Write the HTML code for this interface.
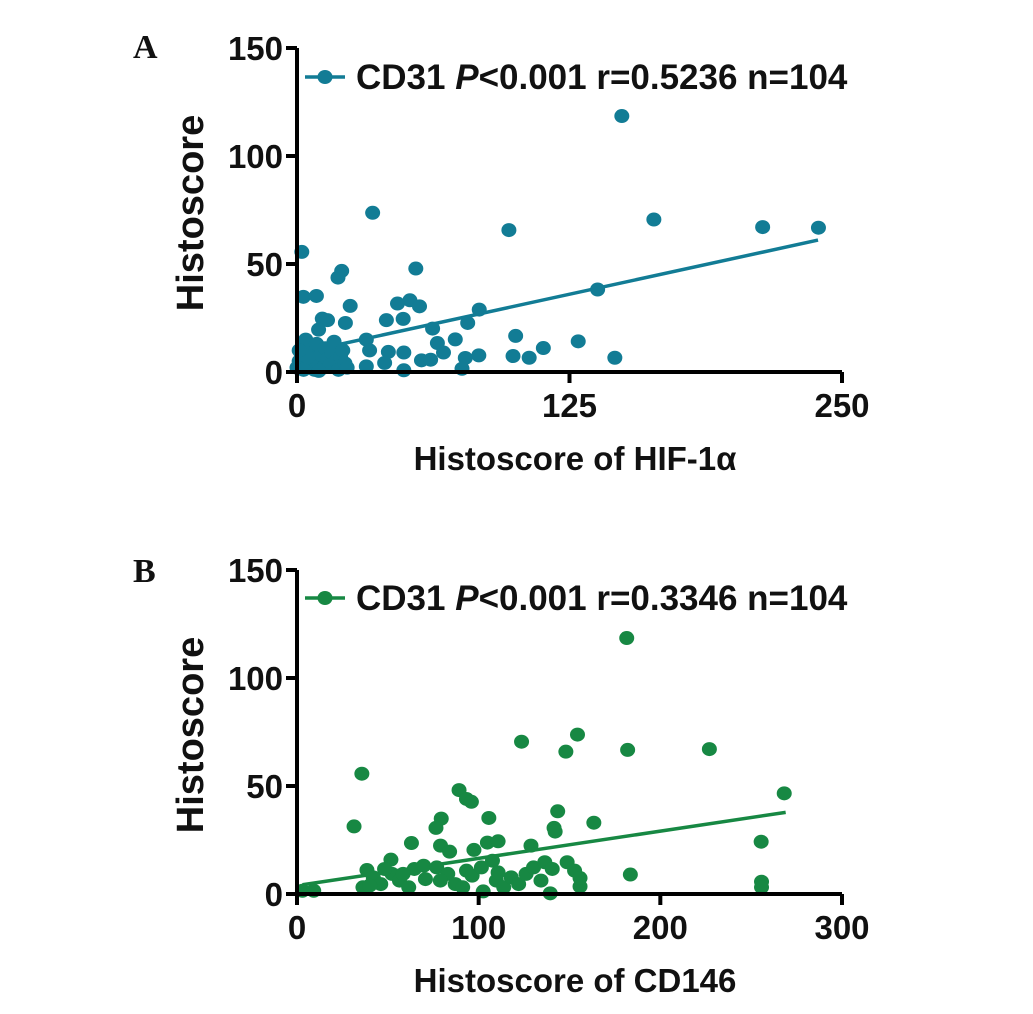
<!DOCTYPE html>
<html><head><meta charset="utf-8"><style>
body{margin:0;background:#fff}
svg text{font-family:"Liberation Sans",sans-serif;font-weight:bold;fill:#111}
</style></head><body>
<svg id="chart" width="1033" height="1009" xmlns="http://www.w3.org/2000/svg">
</svg>
<script>
// Panel A data
const aX = [149,34.7,97.2,163.7,213.6,239.2,2.2,137.9,20.5,18.8,54.5,2.9,8.9,24.4,46.1,51.8,56.2,83.6,11.6,14,22.2,41,48.7,9.9,62.2,78.3,100.3,72.6,129,64.4,67.2,113,83.4,99.1,106.5,145.8,77.2,75.7,57.1,61.3,49,49,31.8,33.3,31.8,41.9,40.2,
0,1,2,3,4,5,6,7,8,9,10,11,12,13,14,15,16,17,18,19,20,21,22,23,3,5,10,1];
const aY = [118.5,73.7,65.7,70.6,67.1,66.8,55.6,38.2,46.8,43.7,47.9,34.8,35.2,30.6,31.7,33.2,30.4,28.9,24.7,24,22.7,24,24.6,19.6,20.1,22.7,16.7,15.1,14.2,13.4,9,11.1,7.7,7.4,6.6,6.6,6.5,1.5,5.4,5.7,9,0.8,15,10,2.6,9.3,4.2,
2,5,8,12,15,3,10,6,1,13,4,8,2,11,6,3,9,14,5,1,7,10,4,2,1,7,0.5,10];
const aFit = [8.5, 0.22]; // intercept, slope
const aXTicks = [0,125,250];
const yTicks = [0,50,100,150];
// Panel B data
const bX = [181.5,35.7,31.4,123.6,154.4,148,182,227,268.2,89.2,93.3,96,79.4,76.5,105.6,143.5,141.5,142.1,163.4,255.5,63,79,84,104.8,110.7,128.8,97.4,51.7,183.5,255.7,255.7,3,9.2,139.4,155.8,102.5,
36.3,38.5,42,46.1,52.3,56.4,61.5,64.6,69.7,70.7,76.9,83,87.1,91.2,93.3,96.4,101.5,107.6,109.7,113.8,117.9,122,126.1,130.2,134.3,136.4,140.5,148.7,152.8,155.8,110.7,78.9,58.4,48.2,40];
const bY = [118.5,55.7,31.3,70.5,73.8,65.9,66.7,67.1,46.6,48.1,44,42.7,34.9,30.6,35.2,38.3,30.6,28.9,33,24.2,23.6,22.4,19.6,23.8,24.4,22.4,20.4,15.9,9,5.7,3.1,1.5,1.5,0.3,3.5,1.2,
3.1,11.1,7.7,4.6,9.3,6.2,3.1,11.6,13.1,6.9,12.3,9.3,4.6,3.1,10.8,8.5,12.3,15.4,6.2,3.1,7.7,4.6,9.3,12.3,6.2,14.7,11.6,14.7,10.8,7.4,10,6.2,9.3,11.6,3.9];
const bFit = [3.9, 0.126];
const bXTicks = [0,100,200,300];

const NS="http://www.w3.org/2000/svg";
const svg=document.getElementById('chart');
function mk(tag,attrs,parent){const e=document.createElementNS(NS,tag);for(const k in attrs)e.setAttribute(k,attrs[k]);(parent||svg).appendChild(e);return e;}

function panel(o){
  const g=mk('g',{});
  
  
  const sx=v=>o.x0+(v-0)/(o.xmax)*(o.x1-o.x0);
  const sy=v=>o.y0-(v/150)*(o.y0-o.yTop);
  const ln=mk('line',{x1:sx(o.fitFrom),y1:sy(o.fit[0]+o.fit[1]*o.fitFrom),x2:sx(o.fitTo),y2:sy(o.fit[0]+o.fit[1]*o.fitTo),stroke:o.color,'stroke-width':3.5},g);
  
  
  o.xs.forEach((v,i)=>{
    const c=mk('ellipse',{cx:sx(v),cy:sy(o.ys[i]),rx:7.5,ry:7,fill:o.color},g);
    
    
  });
  const ax=mk('path',{d:`M${o.x0},${o.yTop} V${o.y0} H${o.x1}`,stroke:'#000','stroke-width':4,fill:'none'},g);
  
  
  yTicks.forEach(t=>{
    mk('line',{x1:o.x0-11,x2:o.x0,y1:sy(t),y2:sy(t),stroke:'#000','stroke-width':4},g);
    const tx=mk('text',{x:o.x0-14,y:sy(t)+12,'text-anchor':'end','font-size':33},g);
    tx.textContent=t;
    
    
  });
  o.xTicks.forEach(t=>{
    mk('line',{x1:sx(t),x2:sx(t),y1:o.y0,y2:o.y0+11,stroke:'#000','stroke-width':4},g);
    const tx=mk('text',{x:sx(t),y:o.y0+45,'text-anchor':'middle','font-size':33},g);
    tx.textContent=t;
    
    
  });
  const yt=mk('text',{x:0,y:0,transform:`translate(203,${o.yTitleY}) rotate(-90)`,'text-anchor':'middle','font-size':38},g);
  yt.textContent='Histoscore';
  
  
  const xt=mk('text',{x:575,y:o.xTitleY,'text-anchor':'middle','font-size':33},g);
  xt.innerHTML=o.xTitle;
  
  
  const lg=mk('g',{},g);
  
  
  mk('line',{x1:305,x2:345,y1:o.legY,y2:o.legY,stroke:o.color,'stroke-width':3.5},lg);
  mk('ellipse',{cx:325,cy:o.legY,rx:7.5,ry:7,fill:o.color},lg);
  const lt=mk('text',{x:356,y:o.legY+12,'font-size':35},lg);
  lt.innerHTML=o.legend;
  const pl=mk('text',{x:133,y:o.labelY,'font-size':34,style:'font-family:"Liberation Serif",serif;font-weight:bold'},g);
  pl.textContent=o.label;
  
  
}

panel({name:'panel-a',xs:aX,ys:aY,fit:aFit,fitFrom:0,fitTo:239,xTicks:aXTicks,xmax:250,color:'#127c95',
  x0:297,x1:842,y0:372,yTop:48,yTitleY:213,xTitleY:470,legY:77,labelY:58,label:'A',
  xTitle:'Histoscore of HIF-1α',legend:'CD31 <tspan font-style="italic">P</tspan>&lt;0.001 r=0.5236 n=104'});
panel({name:'panel-b',xs:bX,ys:bY,fit:bFit,fitFrom:3,fitTo:269,xTicks:bXTicks,xmax:300,color:'#178843',
  x0:297,x1:842,y0:894,yTop:570,yTitleY:735,xTitleY:992,legY:598,labelY:582,label:'B',
  xTitle:'Histoscore of CD146',legend:'CD31 <tspan font-style="italic">P</tspan>&lt;0.001 r=0.3346 n=104'});
</script>
</body></html>
